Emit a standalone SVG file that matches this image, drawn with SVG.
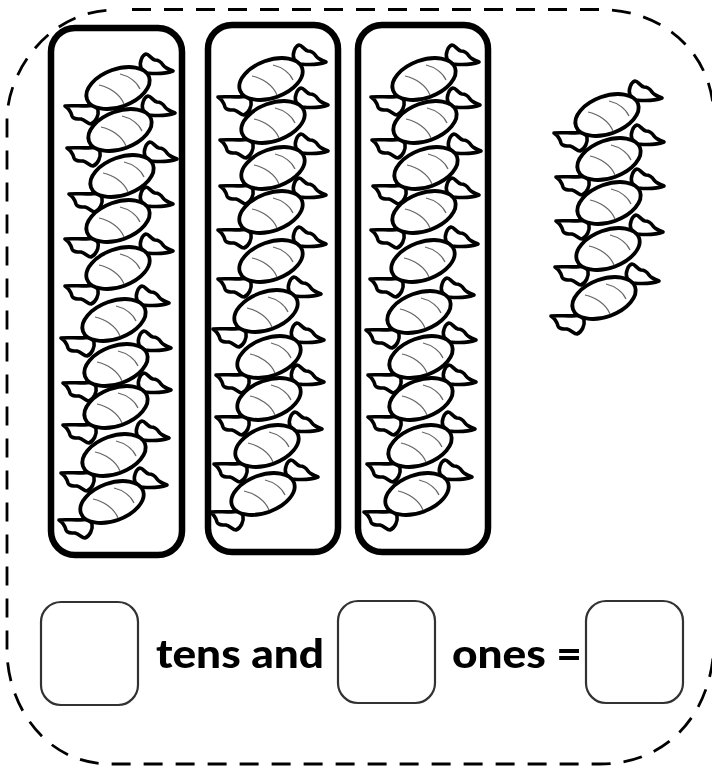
<svg xmlns="http://www.w3.org/2000/svg" xmlns:xlink="http://www.w3.org/1999/xlink" width="712" height="766" viewBox="0 0 712 766">
<style>
.frame{fill:none;stroke:#000;stroke-width:6.5}
.box{fill:#fff;stroke:#333;stroke-width:2.2}
.body{fill:#fff;stroke:#000;stroke-width:3.8}
.wrap{fill:#fff;stroke:#000;stroke-width:3.6;stroke-linejoin:round}
.vein{fill:none;stroke:#666;stroke-width:1.2}
.label{font-family:"Lato","Liberation Sans",sans-serif;font-weight:900;font-size:39px;fill:#000}
</style>
<defs>
<filter id="soft" x="-5%" y="-5%" width="110%" height="110%"><feGaussianBlur stdDeviation="0.45"/></filter>
<g id="candy">
<path class="wrap" d="M23,-20C21,-25 24,-33 28,-34C31,-34 33,-29 37,-28C41,-28 43,-26 45,-23C47,-20 50,-19 55,-17C47,-14 38,-14 29,-15C27,-16 25,-18 23,-20Z"/>
<path class="wrap" d="M-24,17C-32,19 -44,17 -53,18C-50,20 -47,24 -46,28C-45,31 -41,31 -37,31C-33,32 -30,36 -27,36C-22,34 -19,27 -20,22C-21,20 -22,18 -24,17Z"/>
<ellipse class="body" rx="33" ry="18.8" transform="rotate(-20)"/>
<path class="vein" d="M-19,-3C-9,-1 2,6 6,16"/>
<path class="vein" d="M2,-14C11,-12 19,-6 22,1"/>
</g>
</defs>
<g filter="url(#soft)">
<path id="border" fill="none" stroke="#000" stroke-width="2.8" stroke-dasharray="19 13" d="M132,9.500H600C660,9.500 714,50 714,120V640C714,710 670,764 600,764H110C45,764 7,705 7,650V120C7,70 50,11 113,10"/>
<g id="tens-1">
<rect class="frame" x="51" y="28" width="131" height="527" rx="24"/>
<use xlink:href="#candy" x="118" y="88"/><use xlink:href="#candy" x="120" y="130"/><use xlink:href="#candy" x="122" y="176"/><use xlink:href="#candy" x="118" y="221"/><use xlink:href="#candy" x="118" y="268"/><use xlink:href="#candy" x="114" y="320"/><use xlink:href="#candy" x="116" y="365"/><use xlink:href="#candy" x="116" y="407"/><use xlink:href="#candy" x="114" y="455"/><use xlink:href="#candy" x="112" y="502"/>
</g>
<g id="tens-2">
<rect class="frame" x="208" y="25" width="130" height="527" rx="24"/>
<use xlink:href="#candy" x="271" y="79"/><use xlink:href="#candy" x="273" y="122"/><use xlink:href="#candy" x="273" y="168"/><use xlink:href="#candy" x="271" y="212"/><use xlink:href="#candy" x="271" y="261"/><use xlink:href="#candy" x="266" y="311"/><use xlink:href="#candy" x="269" y="357"/><use xlink:href="#candy" x="269" y="399"/><use xlink:href="#candy" x="267" y="446"/><use xlink:href="#candy" x="263" y="494"/>
</g>
<g id="tens-3">
<rect class="frame" x="358" y="25" width="130" height="527" rx="24"/>
<use xlink:href="#candy" x="424" y="79"/><use xlink:href="#candy" x="425" y="122"/><use xlink:href="#candy" x="426" y="168"/><use xlink:href="#candy" x="424" y="212"/><use xlink:href="#candy" x="423" y="261"/><use xlink:href="#candy" x="419" y="312"/><use xlink:href="#candy" x="421" y="357"/><use xlink:href="#candy" x="421" y="399"/><use xlink:href="#candy" x="420" y="446"/><use xlink:href="#candy" x="417" y="494"/>
</g>
<g id="ones">
<use xlink:href="#candy" x="607" y="115"/><use xlink:href="#candy" x="609" y="159"/><use xlink:href="#candy" x="609" y="203"/><use xlink:href="#candy" x="608" y="249"/><use xlink:href="#candy" x="604" y="298"/>
</g>
<g id="box-tens"><rect class="box" x="41" y="602" width="97" height="103" rx="20"/></g>
<text class="label" x="156" y="668" textLength="168" lengthAdjust="spacingAndGlyphs">tens and</text>
<g id="box-ones"><rect class="box" x="338" y="601" width="97" height="102" rx="20"/></g>
<text class="label" x="452" y="668" textLength="130" lengthAdjust="spacingAndGlyphs">ones =</text>
<g id="box-total"><rect class="box" x="586" y="601" width="97" height="102" rx="20"/></g>
</g>
</svg>
